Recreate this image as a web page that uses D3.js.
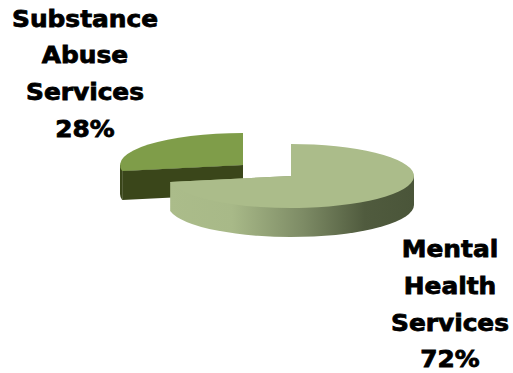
<!DOCTYPE html>
<html>
<head>
<meta charset="utf-8">
<script src="https://cdn.jsdelivr.net/npm/d3@7/dist/d3.min.js"></script>
<style>
html,body{margin:0;padding:0;background:#fff}
svg{display:block}
text{font-family:"DejaVu Sans",sans-serif;font-weight:700;fill:#000;text-anchor:middle}
</style>
</head>
<body>
<svg id="chart" width="513" height="373"></svg>
<script>
// Share of services, drawn as an exploded 3D pie
const categories = ["Mental Health Services", "Substance Abuse Services"];
const shares = [72, 28];
const labelLines = [["Mental", "Health", "Services", "72%"], ["Substance", "Abuse", "Services", "28%"]];

const topColors = ["#abbc8a", "#7f9d49"];
const wallColors = ["url(#wallShade)", "#3a461a"];

const radiusX = 123, radiusY = 32, depth = 29;
const centers = [[291, 176], [243, 165]];
const labelAnchors = [[450, 257], [85, 26.5]];
const lineGap = 36.8;

const svg = d3.select("#chart");

// Wall shading runs left to right across the slice, in its local coordinates
const shade = svg.append("defs").append("linearGradient")
  .attr("id", "wallShade").attr("gradientUnits", "userSpaceOnUse")
  .attr("x1", -radiusX).attr("x2", radiusX).attr("y1", 0).attr("y2", 0);
shade.selectAll("stop")
  .data([[0, "#abbc8a"], [0.26, "#a8b988"], [0.55, "#7d8b65"], [0.8, "#505b3e"], [1, "#4a5539"]])
  .join("stop")
  .attr("offset", d => d[0])
  .attr("stop-color", d => d[1]);

const arcs = d3.pie().sort(null).value(d => d).startAngle(0).endAngle(2 * Math.PI)(shares);
const topFace = d3.arc().innerRadius(0).outerRadius(radiusX);
const px = a => radiusX * Math.sin(a);
const py = a => -radiusY * Math.cos(a);

// Visible outer wall of a slice, limited to the front half of the ellipse.
// Its upper side runs through the centre so the wall tucks under the top face.
function wallPath(a0, a1) {
  const from = Math.max(a0, Math.PI / 2);
  const to = Math.min(a1, 3 * Math.PI / 2);
  if (from >= to) return "";
  return `M${px(from)},${py(from)}L0,0L${px(to)},${py(to)}` +
    `L${px(to)},${py(to) + depth}A${radiusX},${radiusY} 0 0 0 ${px(from)},${py(from) + depth}Z`;
}

// The pulled-out slice sits behind, so it is painted first
const order = [1, 0];
const slices = svg.selectAll("g.slice").data(order).join("g")
  .attr("class", "slice")
  .attr("transform", i => `translate(${centers[i]})`);

slices.append("path")
  .attr("fill", i => wallColors[i])
  .attr("d", i => wallPath(arcs[i].startAngle, arcs[i].endAngle));

// Flat cut face of the pulled-out slice
slices.filter(i => i === 1).append("path")
  .attr("fill", wallColors[1])
  .attr("d", i => {
    const a = arcs[i].startAngle;
    return `M${px(a)},${py(a)}L0,0L0,${depth}L${px(a)},${py(a) + depth}Z`;
  });

slices.append("path")
  .attr("fill", i => topColors[i])
  .attr("transform", `scale(1,${radiusY / radiusX})`)
  .attr("d", i => topFace(arcs[i]));

// Labels
const labels = svg.selectAll("g.label").data(categories).join("g")
  .attr("class", "label")
  .attr("transform", (d, i) => `translate(${labelAnchors[i]}) scale(1.08,1)`);
labels.selectAll("text").data((d, i) => labelLines[i]).join("text")
  .attr("y", (d, i) => i * lineGap)
  .attr("font-size", 23)
  .attr("stroke", "#000").attr("stroke-width", 0.8)
  .text(d => d);
</script>
</body>
</html>
